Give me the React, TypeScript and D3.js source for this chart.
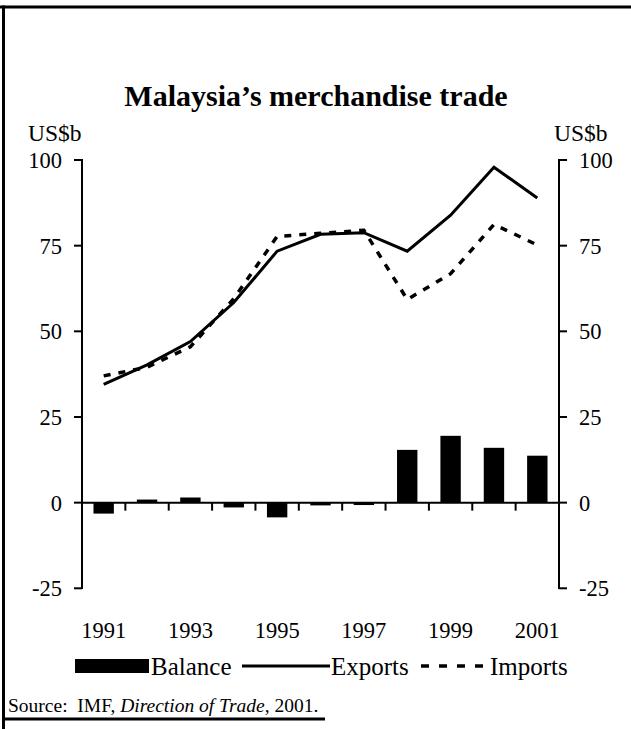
import * as d3 from "d3";

const years = ["1991", "1992", "1993", "1994", "1995", "1996", "1997", "1998", "1999", "2000", "2001"];
const exportsUS = [34.5, 40.2, 47.0, 58.4, 73.4, 78.3, 78.8, 73.4, 83.9, 97.9, 88.9];
const importsUS = [37.0, 39.5, 45.5, 59.5, 77.7, 78.6, 79.5, 59.3, 66.8, 81.2, 75.2];
const balance = [-3.2, 0.9, 1.5, -1.4, -4.3, -0.8, -0.7, 15.4, 19.5, 16.0, 13.7];
const yTicks = [-25, 0, 25, 50, 75, 100];
const yearLabels = ["1991", "1993", "1995", "1997", "1999", "2001"];

const W = 631;
const H = 729;
const font = "'Liberation Serif', 'Times New Roman', serif";

export default function App() {
  const x = d3.scaleBand().domain(years).range([82, 559]).padding(0);
  const y = d3.scaleLinear().domain([-25, 100]).range([588.3, 160]);
  const barW = x.bandwidth() * 0.47;
  const cx = (yr: string) => (x(yr) as number) + x.bandwidth() / 2;

  const line = d3
    .line<number>()
    .x((_, i) => cx(years[i]))
    .y((d) => y(d));

  const y0 = y(0);

  return (
    <svg
      width={W}
      height={H}
      style={{ position: "absolute", left: 0, top: 0, fontFamily: font }}
    >
      <rect width={W} height={H} fill="#fff" />
      {/* frame */}
      <line x1={0} x2={W} y1={7} y2={7} stroke="#000" strokeWidth={3} />
      <line x1={3.5} x2={3.5} y1={5.5} y2={H} stroke="#000" strokeWidth={3} />
      <line x1={2} x2={325} y1={719} y2={719} stroke="#000" strokeWidth={3} />

      <text x={316} y={106} textAnchor="middle" fontSize={30} fontWeight="bold">
        Malaysia’s merchandise trade
      </text>
      <text x={28} y={141} fontSize={23.5}>US$b</text>
      <text x={554} y={141} fontSize={23.5}>US$b</text>

      {/* bars */}
      {balance.map((v, i) => (
        <rect
          key={years[i]}
          x={cx(years[i]) - barW / 2}
          y={Math.min(y(v), y0)}
          width={barW}
          height={Math.abs(y(v) - y0)}
          fill="#000"
        />
      ))}

      {/* axes */}
      <line x1={82} x2={82} y1={159} y2={589} stroke="#000" strokeWidth={2} />
      <line x1={559} x2={559} y1={159} y2={589} stroke="#000" strokeWidth={2} />
      {yTicks.map((t) => (
        <g key={t}>
          <line x1={74} x2={82} y1={y(t)} y2={y(t)} stroke="#000" strokeWidth={2} />
          <line x1={559} x2={567} y1={y(t)} y2={y(t)} stroke="#000" strokeWidth={2} />
          <text x={62} y={y(t) + 8} textAnchor="end" fontSize={22.5}>{t}</text>
          <text x={579} y={y(t) + 8} fontSize={22.5}>{t}</text>
        </g>
      ))}
      <line x1={82} x2={559} y1={y0} y2={y0} stroke="#000" strokeWidth={2} />
      {years.slice(1).map((yr) => (
        <line
          key={yr}
          x1={x(yr) as number}
          x2={x(yr) as number}
          y1={y0}
          y2={y0 + 8}
          stroke="#000"
          strokeWidth={2}
        />
      ))}

      {/* lines */}
      <path d={line(importsUS) ?? ""} fill="none" stroke="#000" strokeWidth={3.5} strokeDasharray="7,8" />
      <path d={line(exportsUS) ?? ""} fill="none" stroke="#000" strokeWidth={3} />

      {yearLabels.map((yr) => (
        <text key={yr} x={cx(yr)} y={638} textAnchor="middle" fontSize={22.5}>{yr}</text>
      ))}

      {/* legend */}
      <rect x={75} y={659} width={74} height={14} fill="#000" />
      <text x={151} y={675} fontSize={25}>Balance</text>
      <line x1={242} x2={330} y1={666} y2={666} stroke="#000" strokeWidth={3} />
      <text x={331} y={675} fontSize={25}>Exports</text>
      <line x1={421} x2={490} y1={666} y2={666} stroke="#000" strokeWidth={3.5} strokeDasharray="8,10" />
      <text x={490} y={675} fontSize={25}>Imports</text>

      <text x={8} y={712} fontSize={19.5} style={{ whiteSpace: "pre" }}>
        {"Source:  IMF, "}
        <tspan fontStyle="italic">Direction of Trade</tspan>
        {", 2001."}
      </text>
    </svg>
  );
}
